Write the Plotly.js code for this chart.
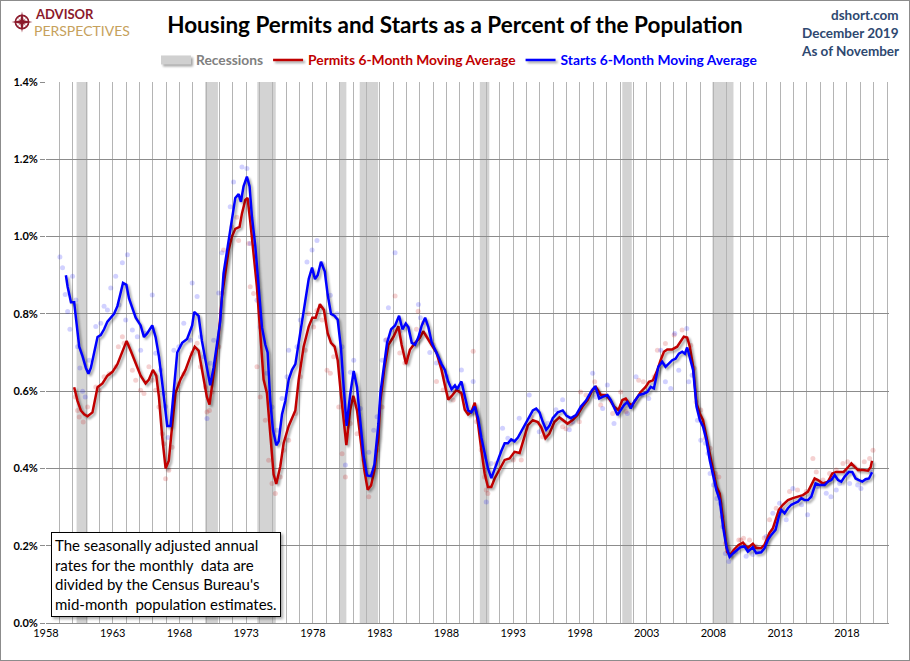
<!DOCTYPE html>
<html>
<head>
<meta charset="utf-8">
<script src="https://cdn.plot.ly/plotly-3.0.1.min.js"></script>
<style>
  body { margin: 0; background: #fff; }
  #wrap { position: relative; width: 910px; height: 661px; }
  #frame { position: absolute; left: 0; top: 0; width: 908px; height: 659px; border: 1px solid #8c8c8c; pointer-events: none; }
  .js-line { filter: drop-shadow(2px 2px 1.2px rgba(0,0,0,0.35)); }
</style>
</head>
<body>
<div id="wrap"><div id="chart" style="width:910px;height:661px"></div><div id="frame"></div></div>
<script>
// ---- Data (percent of population) ----
const startsMaYear = [1959.49,1959.62,1959.87,1960.11,1960.24,1960.49,1960.74,1960.99,1961.18,1961.36,1961.61,1961.86,1962.10,1962.35,1962.60,1962.85,1963.10,1963.35,1963.60,1963.77,1964.02,1964.22,1964.47,1964.72,1965.09,1965.34,1965.59,1965.96,1966.21,1966.46,1966.71,1966.96,1967.08,1967.33,1967.58,1967.83,1968.20,1968.57,1968.95,1969.10,1969.43,1969.68,1970.00,1970.30,1970.55,1970.80,1971.05,1971.30,1971.68,1971.93,1972.18,1972.43,1972.60,1972.80,1973.05,1973.25,1973.43,1973.68,1973.93,1974.18,1974.43,1974.60,1974.80,1975.00,1975.25,1975.43,1975.68,1975.93,1976.18,1976.43,1976.68,1976.93,1977.18,1977.43,1977.68,1977.93,1978.15,1978.35,1978.60,1978.88,1979.10,1979.35,1979.60,1979.85,1980.10,1980.30,1980.52,1980.78,1981.05,1981.30,1981.55,1981.80,1982.05,1982.35,1982.60,1982.90,1983.05,1983.30,1983.55,1983.85,1984.15,1984.45,1984.70,1984.95,1985.15,1985.40,1985.65,1985.90,1986.15,1986.40,1986.65,1986.90,1987.13,1987.38,1987.63,1987.88,1988.13,1988.38,1988.63,1988.80,1989.12,1989.37,1989.62,1989.87,1990.12,1990.37,1990.61,1990.86,1991.11,1991.36,1991.61,1991.86,1992.11,1992.36,1992.60,1992.85,1993.10,1993.35,1993.60,1993.97,1994.22,1994.47,1994.72,1994.97,1995.22,1995.47,1995.71,1995.96,1996.34,1996.71,1997.00,1997.32,1997.70,1998.07,1998.44,1998.82,1999.14,1999.44,1999.69,2000.06,2000.31,2000.56,2000.81,2001.05,2001.30,2001.55,2001.80,2002.05,2002.42,2002.80,2003.05,2003.30,2003.54,2003.87,2004.16,2004.41,2004.66,2004.91,2005.16,2005.41,2005.66,2005.86,2006.03,2006.23,2006.48,2006.73,2006.98,2007.22,2007.47,2007.72,2007.97,2008.22,2008.47,2008.72,2008.97,2009.21,2009.46,2009.76,2010.01,2010.33,2010.58,2010.95,2011.20,2011.58,2011.83,2012.08,2012.33,2012.65,2012.90,2013.08,2013.33,2013.58,2013.83,2014.08,2014.33,2014.58,2014.83,2015.08,2015.33,2015.65,2015.95,2016.33,2016.58,2016.83,2017.08,2017.33,2017.58,2017.83,2018.15,2018.40,2018.65,2018.90,2019.15,2019.40,2019.65,2019.88];
const startsMa = [0.90,0.87,0.83,0.83,0.79,0.715,0.69,0.66,0.645,0.66,0.70,0.74,0.745,0.76,0.78,0.79,0.80,0.82,0.855,0.88,0.875,0.84,0.815,0.79,0.77,0.74,0.75,0.77,0.74,0.69,0.62,0.535,0.51,0.51,0.60,0.70,0.725,0.735,0.77,0.805,0.795,0.73,0.67,0.615,0.66,0.72,0.78,0.905,0.99,1.04,1.10,1.11,1.09,1.13,1.155,1.13,1.05,0.975,0.87,0.765,0.72,0.70,0.575,0.50,0.46,0.47,0.54,0.575,0.63,0.655,0.67,0.725,0.78,0.845,0.89,0.92,0.89,0.90,0.935,0.91,0.85,0.80,0.795,0.785,0.71,0.61,0.51,0.59,0.652,0.61,0.512,0.43,0.382,0.38,0.41,0.515,0.595,0.66,0.725,0.76,0.77,0.795,0.76,0.775,0.765,0.725,0.72,0.74,0.77,0.79,0.765,0.725,0.71,0.69,0.67,0.655,0.625,0.605,0.615,0.605,0.625,0.59,0.55,0.545,0.56,0.53,0.48,0.44,0.40,0.375,0.40,0.42,0.445,0.465,0.465,0.475,0.47,0.48,0.495,0.52,0.535,0.55,0.555,0.545,0.52,0.50,0.51,0.53,0.545,0.55,0.536,0.53,0.538,0.56,0.575,0.598,0.613,0.581,0.585,0.59,0.577,0.555,0.538,0.551,0.564,0.572,0.555,0.572,0.59,0.594,0.598,0.611,0.607,0.663,0.676,0.663,0.672,0.68,0.684,0.697,0.702,0.697,0.713,0.689,0.654,0.56,0.525,0.508,0.473,0.422,0.378,0.344,0.318,0.249,0.197,0.171,0.18,0.189,0.196,0.198,0.185,0.196,0.181,0.183,0.194,0.215,0.228,0.241,0.276,0.293,0.284,0.297,0.306,0.31,0.314,0.323,0.318,0.318,0.327,0.361,0.357,0.357,0.366,0.37,0.383,0.37,0.366,0.379,0.391,0.391,0.374,0.37,0.366,0.372,0.374,0.39];

const permitsMaYear = [1960.11,1960.36,1960.61,1960.86,1961.11,1961.48,1961.86,1962.23,1962.60,1962.98,1963.35,1963.72,1964.04,1964.34,1964.72,1965.09,1965.46,1965.71,1966.01,1966.26,1966.46,1966.71,1966.96,1967.20,1967.45,1967.70,1968.07,1968.45,1968.82,1969.14,1969.43,1969.80,1970.05,1970.25,1970.55,1970.93,1971.18,1971.43,1971.68,1971.93,1972.18,1972.50,1972.68,1972.93,1973.10,1973.30,1973.55,1973.80,1974.05,1974.30,1974.55,1974.80,1975.05,1975.25,1975.55,1975.80,1976.18,1976.68,1976.93,1977.30,1977.68,1977.95,1978.20,1978.52,1978.82,1979.10,1979.35,1979.62,1979.85,1980.10,1980.50,1980.78,1981.02,1981.30,1981.60,1981.85,1982.10,1982.35,1982.60,1982.90,1983.05,1983.35,1983.65,1984.02,1984.40,1984.64,1984.97,1985.26,1985.65,1986.01,1986.26,1986.51,1986.88,1987.25,1987.63,1987.88,1988.13,1988.38,1988.75,1989.12,1989.37,1989.62,1989.87,1990.12,1990.36,1990.61,1990.86,1991.11,1991.36,1991.61,1991.98,1992.36,1992.73,1993.10,1993.48,1993.85,1994.10,1994.47,1994.84,1995.09,1995.41,1995.71,1996.08,1996.46,1996.82,1997.07,1997.45,1997.82,1998.19,1998.57,1998.94,1999.19,1999.56,1999.93,2000.18,2000.56,2000.88,2001.18,2001.43,2001.68,2001.92,2002.22,2002.55,2002.92,2003.17,2003.47,2003.79,2004.04,2004.29,2004.54,2004.91,2005.28,2005.53,2005.78,2006.03,2006.23,2006.48,2006.73,2006.98,2007.22,2007.47,2007.72,2007.97,2008.22,2008.47,2008.72,2009.02,2009.26,2009.51,2009.88,2010.21,2010.55,2010.95,2011.20,2011.58,2011.83,2012.20,2012.45,2012.70,2012.90,2013.20,2013.58,2013.95,2014.33,2014.70,2015.08,2015.33,2015.58,2015.83,2016.20,2016.58,2016.90,2017.20,2017.45,2017.75,2018.08,2018.33,2018.58,2018.83,2019.20,2019.58,2019.78,2019.88];
const permitsMa = [0.61,0.575,0.55,0.54,0.535,0.545,0.61,0.62,0.64,0.65,0.67,0.705,0.73,0.705,0.67,0.64,0.62,0.63,0.655,0.64,0.585,0.48,0.40,0.42,0.51,0.595,0.63,0.655,0.69,0.715,0.705,0.63,0.585,0.565,0.64,0.74,0.845,0.905,0.965,1.00,1.02,1.025,1.06,1.095,1.10,1.04,0.955,0.87,0.75,0.63,0.595,0.49,0.385,0.36,0.405,0.465,0.51,0.55,0.63,0.715,0.767,0.79,0.79,0.825,0.81,0.75,0.725,0.715,0.68,0.59,0.46,0.55,0.588,0.55,0.47,0.395,0.345,0.356,0.395,0.48,0.575,0.66,0.72,0.74,0.768,0.72,0.67,0.707,0.725,0.738,0.755,0.74,0.72,0.70,0.655,0.615,0.578,0.587,0.603,0.595,0.552,0.54,0.547,0.57,0.517,0.448,0.387,0.352,0.352,0.374,0.396,0.422,0.426,0.443,0.44,0.482,0.512,0.525,0.52,0.507,0.478,0.49,0.52,0.532,0.522,0.516,0.525,0.538,0.56,0.577,0.603,0.611,0.59,0.59,0.581,0.56,0.551,0.577,0.581,0.568,0.564,0.581,0.598,0.611,0.624,0.628,0.654,0.68,0.702,0.708,0.708,0.715,0.728,0.741,0.739,0.715,0.663,0.568,0.542,0.525,0.482,0.439,0.387,0.353,0.335,0.266,0.184,0.176,0.189,0.202,0.208,0.194,0.205,0.194,0.194,0.203,0.233,0.245,0.271,0.293,0.306,0.318,0.323,0.327,0.331,0.34,0.357,0.374,0.37,0.361,0.366,0.387,0.391,0.391,0.391,0.403,0.413,0.404,0.396,0.396,0.394,0.404,0.42];

const startsDotYear = [1959.04,1959.24,1959.44,1959.62,1959.79,1959.99,1960.24,1960.36,1960.54,1960.74,1960.94,1961.23,1961.73,1962.10,1962.35,1962.60,1962.85,1963.22,1963.47,1963.72,1963.97,1964.10,1964.47,1964.84,1965.09,1965.46,1965.96,1966.21,1966.58,1966.83,1966.96,1967.15,1967.58,1967.95,1968.32,1968.82,1968.95,1969.32,1969.57,1969.82,1970.06,1970.31,1970.56,1970.94,1971.18,1971.80,1972.05,1972.68,1973.05,1973.30,1973.80,1974.05,1974.55,1974.93,1975.30,1975.68,1976.05,1976.18,1976.80,1977.05,1977.55,1977.93,1978.30,1978.68,1979.30,1979.80,1980.18,1980.43,1980.80,1981.05,1981.55,1982.18,1982.55,1982.80,1983.18,1983.43,1983.65,1984.15,1984.50,1985.90,1986.05,1986.75,1987.25,1988.00,1988.37,1989.12,1990.00,1990.12,1990.85,1990.98,1991.35,1992.20,1992.60,1993.45,1994.20,1994.95,1995.60,1996.20,1996.70,1997.20,1997.45,1998.95,1999.20,1999.70,2000.05,2000.55,2001.55,2002.20,2002.65,2003.15,2004.05,2004.40,2004.80,2005.10,2005.40,2006.00,2006.15,2006.40,2006.80,2007.05,2007.40,2007.60,2007.75,2008.00,2008.25,2008.50,2008.70,2008.90,2009.15,2009.65,2010.45,2010.95,2011.45,2011.95,2012.45,2012.95,2013.45,2013.95,2014.60,2015.05,2015.30,2015.80,2016.45,2016.80,2017.20,2017.45,2017.95,2018.20,2018.80,2019.05,2019.45,2019.80];
const startsDot = [0.947,0.919,0.85,0.806,0.76,0.897,0.836,0.715,0.66,0.60,0.585,0.68,0.767,0.776,0.82,0.81,0.867,0.897,0.823,0.932,0.784,0.953,0.758,0.741,0.706,0.75,0.849,0.698,0.655,0.594,0.56,0.48,0.706,0.715,0.776,0.732,0.88,0.845,0.741,0.689,0.529,0.672,0.732,0.854,0.958,1.077,1.141,1.18,1.176,0.982,0.835,0.766,0.646,0.559,0.499,0.581,0.637,0.706,0.715,0.784,0.934,0.965,0.99,0.93,0.848,0.80,0.715,0.409,0.649,0.68,0.555,0.442,0.499,0.534,0.68,0.732,0.816,0.958,0.755,0.824,0.79,0.70,0.673,0.638,0.60,0.655,0.625,0.552,0.43,0.313,0.413,0.504,0.478,0.53,0.59,0.495,0.517,0.552,0.578,0.50,0.52,0.646,0.585,0.555,0.616,0.516,0.542,0.637,0.59,0.581,0.706,0.624,0.607,0.749,0.654,0.762,0.624,0.641,0.525,0.473,0.465,0.439,0.387,0.357,0.322,0.309,0.249,0.18,0.159,0.184,0.173,0.177,0.19,0.224,0.284,0.31,0.267,0.348,0.306,0.28,0.327,0.353,0.336,0.327,0.344,0.361,0.391,0.361,0.357,0.348,0.37,0.391];

const permitsDotYear = [1960.19,1960.36,1960.49,1960.79,1961.11,1961.73,1961.98,1962.35,1962.73,1963.22,1963.42,1963.72,1963.85,1964.47,1964.72,1965.09,1965.34,1965.71,1965.96,1966.21,1966.46,1966.71,1966.83,1966.96,1967.20,1967.45,1967.95,1968.32,1968.95,1969.32,1969.57,1969.94,1970.06,1970.24,1970.44,1970.94,1971.18,1971.30,1971.93,1972.30,1972.43,1973.18,1973.30,1973.55,1973.80,1974.05,1974.43,1974.68,1974.93,1975.18,1975.55,1975.80,1976.18,1976.68,1977.05,1977.43,1977.68,1978.05,1978.30,1978.68,1979.05,1979.30,1979.55,1979.93,1980.18,1980.43,1980.80,1981.30,1981.80,1982.18,1982.43,1982.80,1983.18,1983.50,1983.95,1984.15,1984.50,1984.88,1985.75,1985.88,1986.25,1987.00,1987.25,1987.75,1988.50,1989.25,1990.00,1990.25,1990.60,1990.85,1990.98,1991.10,1991.73,1993.00,1993.60,1993.98,1994.35,1995.20,1995.60,1996.70,1996.95,1997.33,1997.95,1998.05,1998.45,1998.95,1999.10,1999.55,2000.45,2001.05,2001.45,2002.40,2002.75,2003.55,2003.80,2004.40,2005.05,2005.65,2006.30,2006.55,2006.70,2007.05,2007.40,2007.75,2008.15,2008.40,2008.65,2008.90,2009.15,2009.90,2010.05,2010.25,2010.70,2011.20,2011.80,2012.20,2012.70,2013.20,2013.70,2014.30,2014.95,2015.45,2015.70,2016.20,2016.70,2017.20,2017.70,2018.05,2018.55,2018.90,2019.30,2019.70,2019.95];
const permitsDot = [0.585,0.55,0.533,0.52,0.559,0.611,0.602,0.637,0.645,0.663,0.715,0.741,0.724,0.654,0.628,0.602,0.594,0.663,0.628,0.602,0.559,0.49,0.464,0.373,0.395,0.455,0.619,0.645,0.698,0.724,0.663,0.611,0.546,0.55,0.598,0.715,0.854,0.965,1.025,1.05,0.99,0.982,0.87,0.853,0.663,0.585,0.525,0.421,0.361,0.335,0.378,0.447,0.473,0.542,0.637,0.706,0.80,0.766,0.809,0.784,0.654,0.646,0.689,0.559,0.438,0.378,0.516,0.49,0.421,0.327,0.387,0.447,0.559,0.733,0.76,0.846,0.699,0.673,0.76,0.807,0.777,0.72,0.625,0.603,0.577,0.59,0.703,0.521,0.448,0.378,0.344,0.335,0.413,0.422,0.422,0.504,0.534,0.482,0.49,0.508,0.503,0.517,0.521,0.598,0.59,0.603,0.624,0.564,0.542,0.598,0.547,0.628,0.624,0.637,0.706,0.723,0.745,0.758,0.719,0.659,0.572,0.551,0.478,0.452,0.387,0.378,0.275,0.206,0.193,0.215,0.215,0.219,0.215,0.198,0.22,0.267,0.297,0.293,0.34,0.344,0.34,0.426,0.391,0.37,0.387,0.396,0.413,0.417,0.404,0.396,0.417,0.426,0.447];

const recessionStart = [1960.29,1969.92,1973.83,1980.00,1981.50,1990.50,2001.17,2007.92];
const recessionEnd   = [1961.12,1970.88,1975.21,1980.50,1982.88,1991.21,2001.88,2009.50];

const xTickVals = [1958,1963,1968,1973,1978,1983,1988,1993,1998,2003,2008,2013,2018];
const seriesNames = ['Recessions','Permits 6-Month Moving Average','Starts 6-Month Moving Average'];

// ---- Layout helpers (pixel -> paper) ----
const W = 910, H = 661, ML = 46, MR = 21, MT = 82, MB = 38;
const PW = W - ML - MR, PH = H - MT - MB;
const px = x => (x - ML) / PW;
const py = y => (H - MB - y) / PH;

const RED = '#C00000', BLUE = '#0000FF';
const FONT = 'Lato, "Open Sans", sans-serif';

const traces = [
  { x: [null], y: [null], type: 'scatter', mode: 'lines', name: '<b><span style="color:#808080">' + seriesNames[0] + '</span></b>',
    line: { color: '#d0d0d0', width: 9 }, hoverinfo: 'skip' },
  { x: permitsDotYear, y: permitsDot, type: 'scatter', mode: 'markers', showlegend: false,
    marker: { color: 'rgba(200,0,0,0.18)', size: 5 }, hoverinfo: 'skip' },
  { x: startsDotYear, y: startsDot, type: 'scatter', mode: 'markers', showlegend: false,
    marker: { color: 'rgba(0,0,255,0.18)', size: 5 }, hoverinfo: 'skip' },
  { x: permitsMaYear, y: permitsMa, type: 'scatter', mode: 'lines', name: '<b><span style="color:' + RED + '">' + seriesNames[1] + '</span></b>',
    line: { color: RED, width: 2.5 } },
  { x: startsMaYear, y: startsMa, type: 'scatter', mode: 'lines', name: '<b><span style="color:' + BLUE + '">' + seriesNames[2] + '</span></b>',
    line: { color: BLUE, width: 2.5 } }
];

const shapes = recessionStart.map((s, i) => ({
  type: 'rect', xref: 'x', yref: 'paper', x0: s, x1: recessionEnd[i], y0: 0, y1: 1,
  fillcolor: '#d3d3d3', line: { width: 0 }, layer: 'below'
}));

const compassSvg = '<svg xmlns="http://www.w3.org/2000/svg" width="40" height="40" viewBox="0 0 40 40">' +
  '<circle cx="20" cy="20" r="12" fill="none" stroke="#8B1A2B" stroke-width="3"/>' +
  '<path d="M20 1 L23 17 L39 20 L23 23 L20 39 L17 23 L1 20 L17 17 Z" fill="#8B1A2B"/>' +
  '<path d="M20 20 L28 12 L22 20 L28 28 Z M20 20 L12 12 L18 20 L12 28 Z" fill="#8B1A2B"/></svg>';

const layout = {
  width: W, height: H,
  margin: { l: ML, r: MR, t: MT, b: MB, pad: 0 },
  paper_bgcolor: '#ffffff', plot_bgcolor: '#ffffff',
  font: { family: FONT, color: '#000' },
  title: { text: '<b>Housing Permits and Starts as a Percent of the Population</b>',
    font: { family: FONT, size: 22.5, color: '#000' },
    x: 455 / W, xanchor: 'center', xref: 'container', y: 1 - 25 / H, yanchor: 'middle', yref: 'container' },
  showlegend: true,
  legend: { orientation: 'h', x: px(459), xanchor: 'center', y: py(60), yanchor: 'middle',
    font: { family: FONT, size: 13.8 }, itemwidth: 30, traceorder: 'normal', bgcolor: 'rgba(0,0,0,0)' },
  xaxis: {
    range: [1958, 2021.15], tickmode: 'array', tickvals: xTickVals, ticktext: xTickVals.map(String),
    showgrid: true, gridcolor: '#b4b4b4', gridwidth: 1,
    minor: { dtick: 1, tick0: 1958, showgrid: true, gridcolor: '#b4b4b4', gridwidth: 1, ticks: '' },
    showline: true, linecolor: '#8c8c8c', linewidth: 1, ticks: '', zeroline: false,
    tickfont: { family: FONT, size: 11, color: '#000' }, fixedrange: true
  },
  yaxis: {
    range: [0, 1.4], dtick: 0.2, tick0: 0, tickformat: '.1f', ticksuffix: '%',
    showgrid: true, gridcolor: '#8c8c8c', gridwidth: 1, zeroline: false,
    showline: false, ticks: 'outside', ticklen: 5, tickcolor: '#8c8c8c',
    tickfont: { family: FONT, size: 11, color: '#000', weight: 'bold' }, fixedrange: true
  },
  shapes: shapes,
  images: [{ source: 'data:image/svg+xml;charset=utf-8,' + encodeURIComponent(compassSvg),
    xref: 'paper', yref: 'paper', x: px(11), y: py(11), sizex: 22 / PW, sizey: 22 / PH,
    xanchor: 'left', yanchor: 'top', sizing: 'stretch', layer: 'above' }],
  annotations: [
    { text: '<b>ADVISOR</b>', xref: 'paper', yref: 'paper', x: px(33), y: py(14), xanchor: 'left', yanchor: 'middle',
      showarrow: false, font: { family: FONT, size: 13, color: '#8B1A2B' } },
    { text: 'PERSPECTIVES', xref: 'paper', yref: 'paper', x: px(32), y: py(30.5), xanchor: 'left', yanchor: 'middle',
      showarrow: false, font: { family: FONT, size: 14, color: '#C6A15B' } },
    { text: '<b>dshort.com</b>', xref: 'paper', yref: 'paper', x: px(901), y: py(15), xanchor: 'right', yanchor: 'middle',
      showarrow: false, font: { family: FONT, size: 13.5, color: '#2E4870' } },
    { text: '<b>December 2019</b>', xref: 'paper', yref: 'paper', x: px(901), y: py(33), xanchor: 'right', yanchor: 'middle',
      showarrow: false, font: { family: FONT, size: 13.5, color: '#2E4870' } },
    { text: '<b>As of November</b>', xref: 'paper', yref: 'paper', x: px(901), y: py(51), xanchor: 'right', yanchor: 'middle',
      showarrow: false, font: { family: FONT, size: 13.5, color: '#2E4870' } },
    { text: 'The seasonally adjusted annual<br>rates for the monthly  data are<br>divided by the Census Bureau\'s<br>mid-month  population estimates.',
      xref: 'paper', yref: 'paper', x: px(51), y: py(532), xanchor: 'left', yanchor: 'top', align: 'left',
      showarrow: false, bgcolor: '#ffffff', bordercolor: '#000000', borderwidth: 1, borderpad: 3,
      font: { family: FONT, size: 15, color: '#000' } }
  ]
};

Plotly.newPlot('chart', traces, layout, { displayModeBar: false, staticPlot: true }).then(() => {
  document.querySelectorAll('.annotation rect.bg').forEach(r => {
    const st = r.getAttribute('style') || '';
    if (st.indexOf('stroke: rgb(0, 0, 0)') >= 0) {
      r.style.filter = 'drop-shadow(2px 2px 1.5px rgba(0,0,0,0.35))';
    }
  });
});
</script>
</body>
</html>
